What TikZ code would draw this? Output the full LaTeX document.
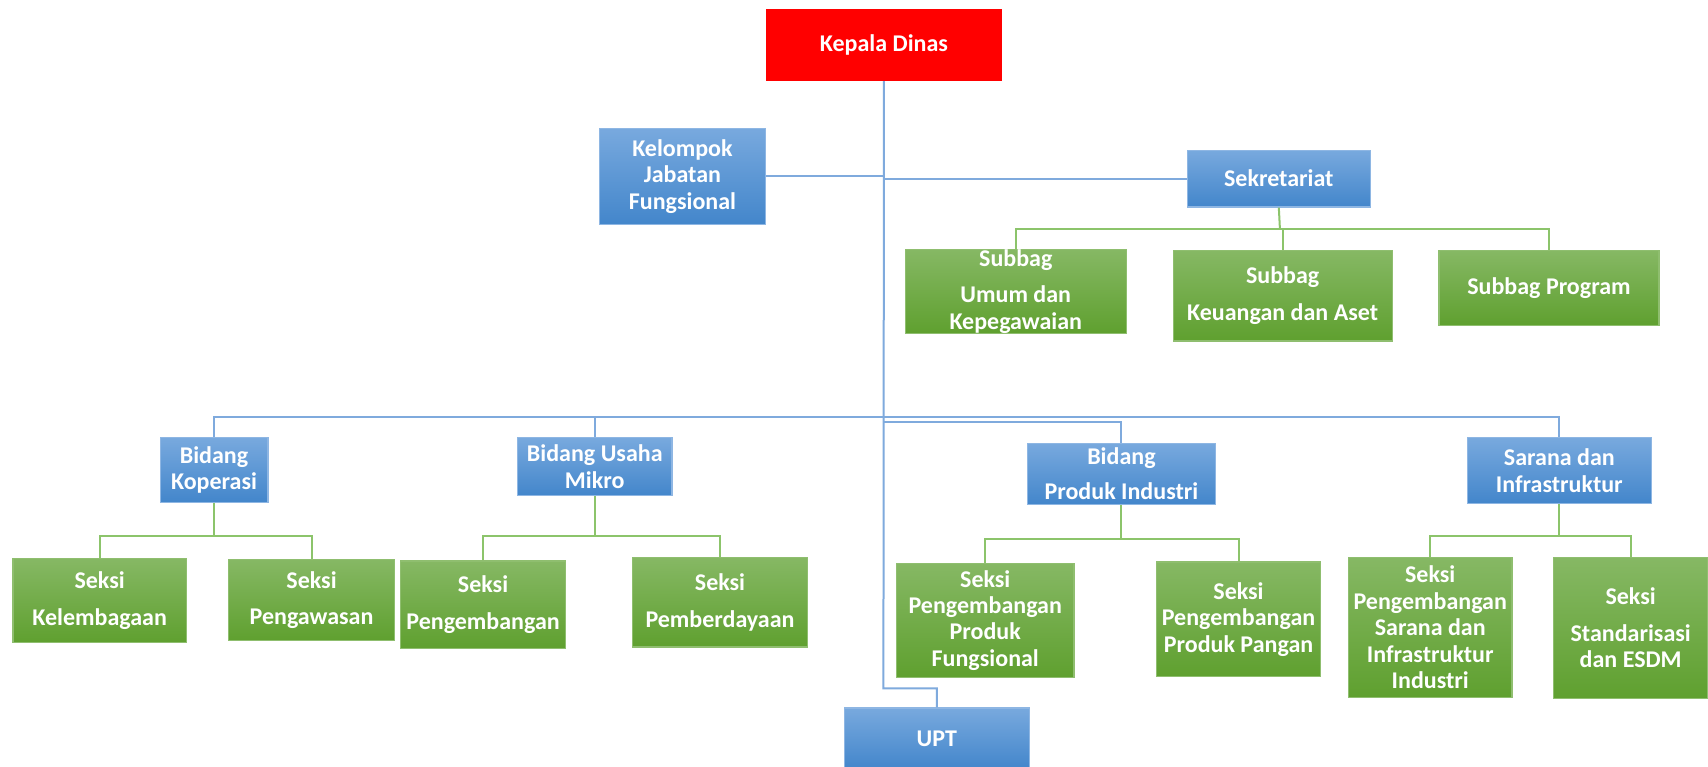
\documentclass[tikz,border=0pt]{standalone}
\usepackage{fontspec}
\setmainfont{Carlito}
\usepackage{tikz}
\usetikzlibrary{positioning}

\definecolor{kepred}{HTML}{FF0000}
\definecolor{bluetop}{HTML}{78A9DE}
\definecolor{bluebot}{HTML}{4386CB}
\definecolor{blueedge}{HTML}{8EB6E3}
\definecolor{greentop}{HTML}{86B864}
\definecolor{greenbot}{HTML}{5FA02F}
\definecolor{greenedge}{HTML}{8FBE6F}
\definecolor{linkblue}{HTML}{7FAADD}
\definecolor{linkgreen}{HTML}{8CC46B}

\begin{document}
\begin{tikzpicture}[x=0.5447pt, y=-0.5447pt,
    orgbox/.style={inner sep=0pt, align=center, text=white, font=\fontsize{12}{13.2}\selectfont\bfseries},
    sz/.style 2 args={minimum width=#1*0.5447pt, minimum height=#2*0.5447pt},
    bluebox/.style={orgbox, top color=bluetop, bottom color=bluebot, draw=blueedge, line width=0.6pt},
    greenbox/.style={orgbox, top color=greentop, bottom color=greenbot, draw=greenedge, line width=0.6pt},
    redbox/.style={orgbox, fill=kepred},
    upline/.style={draw=linkblue, line width=1pt},
    subline/.style={draw=linkgreen, line width=1pt}]

    \clip (0,0) rectangle (1568,704);
    \fill[white] (0,0) rectangle (1568,704);

    % top level
    \node[redbox, sz={217}{66}] (kepala) at (811.5,41) {Kepala Dinas};
    \node[bluebox, sz={153}{88}] (kjf) at (626.5,162) {Kelompok\\Jabatan\\Fungsional};
    \node[bluebox, sz={168}{52}] (sekre) at (1174,164) {Sekretariat};

    % subbagian
    \node[greenbox, sz={203}{75}] (sub1) at (932.5,267.5) {Subbag\\[5pt]Umum dan\\Kepegawaian};
    \node[greenbox, sz={201}{83}] (sub2) at (1177.5,271.5) {Subbag\\[5pt]Keuangan dan Aset};
    \node[greenbox, sz={202}{69}] (sub3) at (1422,264.5) {Subbag Program};

    % bidang
    \node[bluebox, sz={99}{59}] (bkop) at (196.5,431.5) {Bidang\\Koperasi};
    \node[bluebox, sz={142}{53}] (bum) at (546,428.5) {Bidang Usaha\\Mikro};
    \node[bluebox, sz={173}{56}] (bpi) at (1029.5,435) {Bidang\\[4pt]Produk Industri};
    \node[bluebox, sz={169}{60}] (bsi) at (1431.5,432) {Sarana dan\\Infrastruktur};

    % seksi
    \node[greenbox, sz={159}{77}] (s1) at (91.5,551.5) {Seksi\\[5pt]Kelembagaan};
    \node[greenbox, sz={152}{74}] (s2) at (286,551) {Seksi\\[5pt]Pengawasan};
    \node[greenbox, sz={151}{80}] (s3) at (443.5,555) {Seksi\\[5pt]Pengembangan};
    \node[greenbox, sz={160}{82}] (s4) at (661,553) {Seksi\\[5pt]Pemberdayaan};
    \node[greenbox, sz={163}{105}] (s5) at (904.5,569.5) {Seksi\\Pengembangan\\Produk\\Fungsional};
    \node[greenbox, sz={150}{105}] (s6) at (1137,568.5) {Seksi\\Pengembangan\\Produk Pangan};
    \node[greenbox, sz={150}{128}] (s7) at (1313,576) {Seksi\\Pengembangan\\Sarana dan\\Infrastruktur\\Industri};
    \node[greenbox, sz={142}{129}] (s8) at (1497,576.5) {Seksi\\[5pt]Standarisasi\\dan ESDM};

    \node[bluebox, sz={170}{56}] (upt) at (860,678) {UPT};

    % trunk
    \coordinate (bend) at (811,632);
    \coordinate (bar) at (811,383);
    \coordinate (bar2) at (811,387);
    \draw[upline] (kepala.south) -- (bend) -| (upt.north);
    \draw[upline] (kjf.east) -- (kjf.east -| kepala.south);
    \draw[upline] (sekre.west) -- (sekre.west -| kepala.south);
    \draw[upline] (bkop.north) |- (bar) -| (bsi.north);
    \draw[upline] (bum.north) |- (bar);
    \draw[upline] (bar2) -| (bpi.north);

    % sekretariat branch
    \coordinate (sbar) at (1175,210);
    \draw[subline] (sekre.south) -- (sbar);
    \draw[subline] (sub1.north) |- (sbar) -| (sub3.north);
    \draw[subline] (sub2.north) |- (sbar);

    % bidang branches
    \foreach \head/\kidA/\kidB/\xb/\yb in {bkop/s1/s2/196.5/492, bum/s3/s4/546/492, bpi/s5/s6/1029.5/495, bsi/s7/s8/1431.5/492} {
        \coordinate (\head-bar) at (\xb,\yb);
        \draw[subline] (\head.south) -- (\head-bar);
        \draw[subline] (\kidA.north) |- (\head-bar) -| (\kidB.north);
    }
\end{tikzpicture}
\end{document}
